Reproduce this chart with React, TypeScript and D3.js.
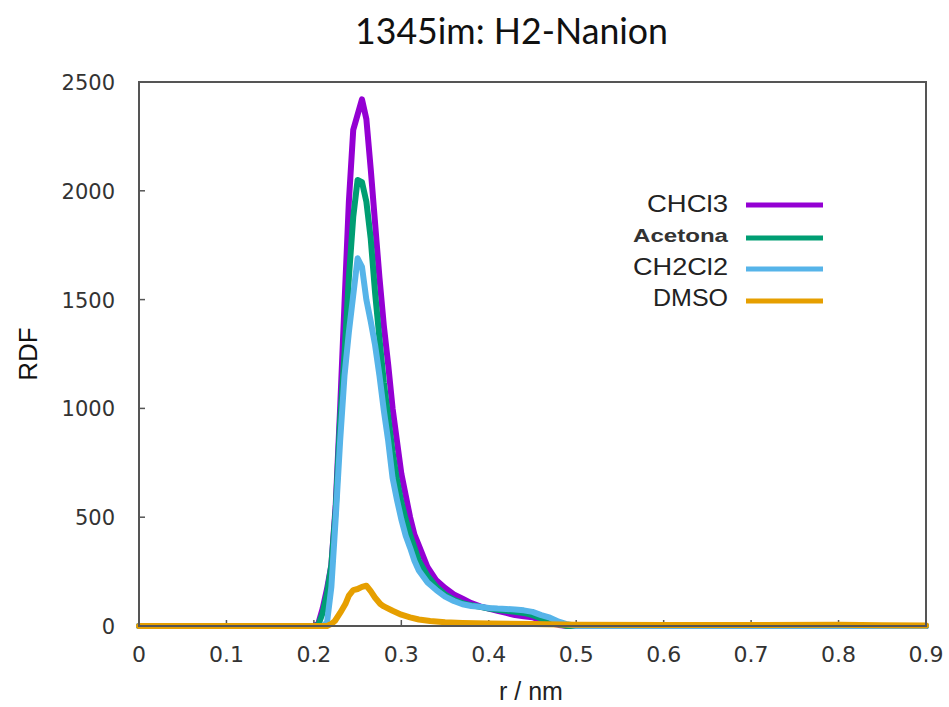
import React, { useRef, useEffect } from 'react';
import * as d3 from 'd3';

// radial distances (nm) and RDF values
const rChcl3 = [0, 0.2, 0.205, 0.21, 0.215, 0.22, 0.225, 0.23, 0.235, 0.24, 0.245, 0.25, 0.255, 0.26, 0.265, 0.27, 0.275, 0.28, 0.285, 0.29, 0.295, 0.3, 0.305, 0.31, 0.315, 0.32, 0.33, 0.34, 0.35, 0.36, 0.37, 0.38, 0.39, 0.4, 0.41, 0.42, 0.43, 0.44, 0.45, 0.46, 0.47, 0.48, 0.49, 0.9];
const gChcl3 = [0, 0, 10, 80, 170, 280, 560, 1000, 1480, 1950, 2280, 2350, 2420, 2330, 2100, 1850, 1600, 1380, 1200, 1000, 850, 700, 600, 500, 420, 370, 270, 210, 175, 145, 125, 105, 90, 80, 70, 60, 50, 45, 40, 25, 12, 5, 0, 0];

const rAcetona = [0, 0.2, 0.205, 0.21, 0.215, 0.22, 0.225, 0.23, 0.235, 0.24, 0.245, 0.25, 0.255, 0.26, 0.265, 0.27, 0.275, 0.28, 0.285, 0.29, 0.295, 0.3, 0.305, 0.31, 0.315, 0.32, 0.33, 0.34, 0.35, 0.36, 0.37, 0.38, 0.39, 0.4, 0.41, 0.42, 0.43, 0.44, 0.45, 0.46, 0.47, 0.48, 0.49, 0.9];
const gAcetona = [0, 0, 5, 60, 150, 280, 540, 950, 1250, 1600, 1880, 2050, 2040, 1950, 1780, 1530, 1320, 1120, 960, 800, 670, 570, 490, 420, 360, 300, 230, 180, 145, 120, 105, 95, 88, 80, 75, 70, 65, 60, 50, 35, 20, 8, 0, 0];

const rCh2cl2 = [0, 0.2, 0.21, 0.215, 0.22, 0.225, 0.23, 0.235, 0.24, 0.245, 0.25, 0.255, 0.26, 0.265, 0.27, 0.275, 0.28, 0.285, 0.29, 0.295, 0.3, 0.305, 0.31, 0.315, 0.32, 0.33, 0.34, 0.35, 0.36, 0.37, 0.38, 0.39, 0.4, 0.41, 0.42, 0.43, 0.44, 0.45, 0.46, 0.47, 0.48, 0.49, 0.5, 0.9];
const gCh2cl2 = [0, 0, 0, 15, 180, 500, 850, 1150, 1350, 1520, 1690, 1650, 1500, 1400, 1290, 1150, 990, 850, 680, 580, 490, 415, 360, 300, 255, 200, 165, 135, 115, 100, 92, 88, 83, 80, 78, 76, 72, 65, 50, 38, 20, 8, 0, 0];

const rDmso = [0, 0.215, 0.22, 0.224, 0.23, 0.236, 0.24, 0.245, 0.25, 0.255, 0.26, 0.265, 0.27, 0.276, 0.28, 0.29, 0.3, 0.31, 0.32, 0.333, 0.35, 0.37, 0.4, 0.45, 0.5, 0.6, 0.7, 0.8, 0.85, 0.9];
const gDmso = [0, 0, 10, 23, 60, 101, 140, 165, 170, 180, 185, 160, 130, 101, 90, 70, 52, 40, 30, 23, 17, 14, 11, 9, 6, 5, 5, 6, 4, 2];

const seriesNames = ['CHCl3', 'Acetona', 'CH2Cl2', 'DMSO'];
const seriesColors = ['#9400d3', '#009e73', '#56b4e9', '#e69f00'];
const seriesR = [rChcl3, rAcetona, rCh2cl2, rDmso];
const seriesG = [gChcl3, gAcetona, gCh2cl2, gDmso];

const xTicks = [0, 0.1, 0.2, 0.3, 0.4, 0.5, 0.6, 0.7, 0.8, 0.9];
const yTicks = [0, 500, 1000, 1500, 2000, 2500];

const App = () => {
  const svgRef = useRef<SVGSVGElement>(null);

  useEffect(() => {
    if (!svgRef.current) return;
    d3.select(svgRef.current).selectAll('*').remove();

    const width = 949;
    const height = 707;
    const margin = { top: 82, right: 23, bottom: 81, left: 139 };

    const svg = d3.select(svgRef.current)
      .attr('width', width)
      .attr('height', height)
      .style('background', 'white');

    const x = d3.scaleLinear().domain([0, 0.9]).range([margin.left, width - margin.right]);
    const y = d3.scaleLinear().domain([0, 2500]).range([height - margin.bottom, margin.top]);

    const axisColor = '#555';

    // ticks (inside)
    svg.append('g').selectAll('line.xt')
      .data(xTicks)
      .enter()
      .append('line')
      .attr('x1', d => x(d)).attr('x2', d => x(d))
      .attr('y1', y(0)).attr('y2', y(0) - 6)
      .attr('stroke', axisColor).attr('stroke-width', 1.5);

    svg.append('g').selectAll('line.yt')
      .data(yTicks)
      .enter()
      .append('line')
      .attr('x1', x(0)).attr('x2', x(0) + 6)
      .attr('y1', d => y(d)).attr('y2', d => y(d))
      .attr('stroke', axisColor).attr('stroke-width', 1.5);

    // curves
    const line = d3.line<[number, number]>()
      .x(d => x(d[0]))
      .y(d => y(d[1]))
      .curve(d3.curveLinear);

    seriesNames.forEach((name, i) => {
      const pts = seriesR[i].map((r, j) => [r, seriesG[i][j]] as [number, number]);
      svg.append('path')
        .datum(pts)
        .attr('d', line)
        .attr('fill', 'none')
        .attr('stroke', seriesColors[i])
        .attr('stroke-width', 6)
        .attr('stroke-linejoin', 'round')
        .attr('stroke-linecap', 'round');
    });

    // frame
    svg.append('rect')
      .attr('x', x(0)).attr('y', y(2500))
      .attr('width', x(0.9) - x(0)).attr('height', y(0) - y(2500))
      .attr('fill', 'none')
      .attr('stroke', axisColor)
      .attr('stroke-width', 2);

    // tick labels
    svg.append('g').selectAll('text')
      .data(xTicks)
      .enter()
      .append('text')
      .attr('x', d => x(d))
      .attr('y', 662)
      .attr('text-anchor', 'middle')
      .style('font-family', "'DejaVu Sans', sans-serif")
      .style('font-size', '22px')
      .attr('fill', '#333')
      .text(d => String(d));

    svg.append('g').selectAll('text')
      .data(yTicks)
      .enter()
      .append('text')
      .attr('x', 115)
      .attr('y', d => y(d) + 8)
      .attr('text-anchor', 'end')
      .style('font-family', "'DejaVu Sans', sans-serif")
      .style('font-size', '21px')
      .attr('fill', '#333')
      .text(d => String(d));

    // axis titles
    svg.append('text')
      .attr('transform', `translate(37,${(y(0) + y(2500)) / 2}) rotate(-90)`)
      .attr('text-anchor', 'middle')
      .style('font-family', "'Liberation Sans', Arial, sans-serif")
      .style('font-size', '26px')
      .attr('fill', '#111')
      .text('RDF');

    svg.append('text')
      .attr('x', 531)
      .attr('y', 700)
      .attr('text-anchor', 'middle')
      .style('font-family', "'Liberation Sans', Arial, sans-serif")
      .style('font-size', '25px')
      .attr('fill', '#222')
      .text('r / nm');

    // title
    svg.append('text')
      .attr('x', 355)
      .attr('y', 44)
      .attr('textLength', 313)
      .attr('lengthAdjust', 'spacingAndGlyphs')
      .style('font-family', "Lato, 'Open Sans', sans-serif")
      .style('font-size', '36px')
      .attr('fill', '#111')
      .text('1345im: H2-Nanion');

    // legend
    const legendRows = [205, 238, 269, 301];
    const legendBase = [212, 242, 275, 306];
    const legendWidths = [81, 95, 95, 75];
    seriesNames.forEach((name, i) => {
      const ly = legendRows[i];
      const bold = name === 'Acetona';
      svg.append('text')
        .attr('x', 728 - legendWidths[i])
        .attr('y', legendBase[i])
        .attr('textLength', legendWidths[i])
        .attr('lengthAdjust', 'spacingAndGlyphs')
        .style('font-family', "'Liberation Sans', Arial, sans-serif")
        .style('font-size', bold ? '19px' : '24px')
        .style('font-weight', bold ? 'bold' : 'normal')
        .attr('fill', bold ? '#333' : '#222')
        .text(name);
      svg.append('line')
        .attr('x1', 746).attr('x2', 823)
        .attr('y1', ly).attr('y2', ly)
        .attr('stroke', seriesColors[i])
        .attr('stroke-width', 5);
    });
  }, []);

  return (
    <div style={{ position: 'absolute', left: 0, top: 0 }}>
      <svg ref={svgRef} />
    </div>
  );
};

export default App;
